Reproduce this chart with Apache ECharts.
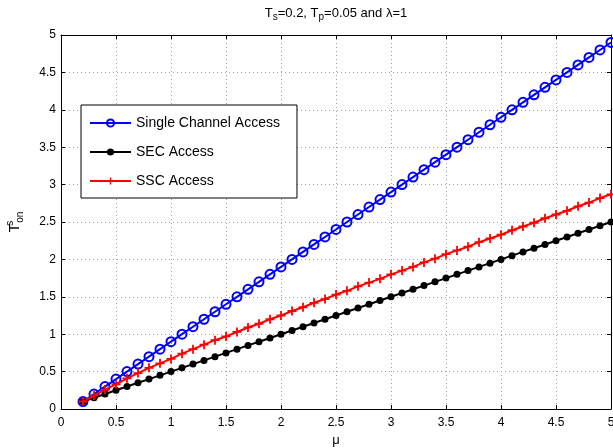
<!DOCTYPE html>
<html>
<head>
<meta charset="utf-8">
<script src="https://cdn.jsdelivr.net/npm/echarts@6/dist/echarts.min.js"></script>
<style>
html,body{margin:0;padding:0;background:#fff;}
#c{width:613px;height:448px;}
</style>
</head>
<body>
<div id="c"></div>
<script>
// ---- data ----
var mu = [0.2,0.3,0.4,0.5,0.6,0.7,0.8,0.9,1.0,1.1,1.2,1.3,1.4,1.5,1.6,1.7,1.8,1.9,2.0,2.1,2.2,2.3,2.4,2.5,2.6,2.7,2.8,2.9,3.0,3.1,3.2,3.3,3.4,3.5,3.6,3.7,3.8,3.9,4.0,4.1,4.2,4.3,4.4,4.5,4.6,4.7,4.8,4.9,5.0];
var singleChannel = [0.1,0.2,0.3,0.4,0.5,0.6,0.7,0.8,0.9,1.0,1.1,1.2,1.3,1.4,1.5,1.6,1.7,1.8,1.9,2.0,2.1,2.2,2.3,2.4,2.5,2.6,2.7,2.8,2.9,3.0,3.1,3.2,3.3,3.4,3.5,3.6,3.7,3.8,3.9,4.0,4.1,4.2,4.3,4.4,4.5,4.6,4.7,4.8,4.9];
var secAccess = [0.10,0.15,0.20,0.25,0.30,0.35,0.40,0.45,0.50,0.55,0.60,0.65,0.70,0.75,0.80,0.85,0.90,0.95,1.00,1.05,1.10,1.15,1.20,1.25,1.30,1.35,1.40,1.45,1.50,1.55,1.60,1.65,1.70,1.75,1.80,1.85,1.90,1.95,2.00,2.05,2.10,2.15,2.20,2.25,2.30,2.35,2.40,2.45,2.50];
var sscAccess = [0.10,0.18,0.26,0.33,0.41,0.48,0.55,0.61,0.67,0.74,0.80,0.86,0.92,0.97,1.03,1.09,1.14,1.20,1.25,1.31,1.36,1.42,1.47,1.53,1.58,1.64,1.69,1.74,1.80,1.85,1.90,1.96,2.01,2.07,2.12,2.17,2.23,2.28,2.33,2.39,2.44,2.49,2.55,2.60,2.65,2.71,2.76,2.82,2.87];
var seriesNames = ['Single Channel Access','SEC Access','SSC Access'];
var axisMin = 0, axisMax = 5, axisStep = 0.5;

function pairs(ys){ return mu.map(function(x,i){ return [x, ys[i]]; }); }

var FONT = 'Liberation Sans, Arial, Helvetica, sans-serif';
var plusPath = 'path://M4,0H6V4H10V6H6V10H4V6H0V4H4Z';

var chart = echarts.init(document.getElementById('c'), null, {renderer:'canvas'});

function mainAxis(pos, extra){
  var a = {
    type:'value', position:pos, min:axisMin, max:axisMax, interval:axisStep,
    axisLine:{show:true, onZero:false, lineStyle:{color:'#000', width:1}},
    axisTick:{show:true, inside:true, length:4, lineStyle:{color:'#000'}},
    axisLabel:{show:true, color:'#000', fontSize:12, fontFamily:FONT},
    splitLine:{show:true, lineStyle:{color:'#a0a0a0', type:[1,3], width:1}}
  };
  for (var k in extra) a[k] = extra[k];
  return a;
}
function boxAxis(pos){
  return {
    type:'value', position:pos, min:axisMin, max:axisMax, interval:axisStep,
    axisLine:{show:true, onZero:false, lineStyle:{color:'#000', width:1}},
    axisTick:{show:true, inside:true, length:4, lineStyle:{color:'#000'}},
    axisLabel:{show:false}, splitLine:{show:false}
  };
}

var xMain = mainAxis('bottom', {
  name:'μ', nameLocation:'middle', nameGap:21,
  nameTextStyle:{color:'#000', fontSize:13, fontFamily:FONT}
});
xMain.axisLabel.margin = 8;
var yMain = mainAxis('left', {
  name:'{n|T}{sup|s}{sub|on}', nameLocation:'middle', nameGap:36, nameRotate:90,
  nameTextStyle:{color:'#000', fontFamily:FONT,
    rich:{
      n:{fontSize:14, lineHeight:20, fontFamily:FONT, color:'#000'},
      sup:{fontSize:10, lineHeight:10, verticalAlign:'top', width:1, fontFamily:FONT, color:'#000'},
      sub:{fontSize:10, lineHeight:10, verticalAlign:'bottom', fontFamily:FONT, color:'#000'}
    }}
});
yMain.axisLabel.margin = 5;

var option = {
  animation:false,
  backgroundColor:'#fff',
  title:{
    text:'{n|T}{sub|s}{n|=0.2, T}{sub|p}{n|=0.05 and λ=1}',
    left:336, top:4, textAlign:'center', padding:0,
    textStyle:{color:'#000', fontFamily:FONT, fontWeight:'normal',
      rich:{
        n:{fontSize:13, lineHeight:18, fontFamily:FONT, color:'#000'},
        sub:{fontSize:10, lineHeight:10, verticalAlign:'bottom', fontFamily:FONT, color:'#000'}
      }}
  },
  grid:{left:61, right:2, top:35, bottom:39, containLabel:false, outerBoundsMode:'none'},
  legend:{
    data:seriesNames, orient:'vertical', left:81, top:105,
    padding:[11,17,10,8], itemGap:15, itemWidth:41, itemHeight:9,
    backgroundColor:'#fff', borderColor:'#000', borderWidth:1, borderRadius:0,
    textStyle:{color:'#000', fontSize:14, fontFamily:FONT}
  },
  xAxis:[xMain, boxAxis('top')],
  yAxis:[yMain, boxAxis('right')],
  series:[
    {
      name:seriesNames[0], type:'line', xAxisIndex:0, yAxisIndex:0,
      data:pairs(singleChannel), symbol:'circle', symbolSize:9,
      lineStyle:{color:'#0000ff', width:2},
      itemStyle:{color:'rgba(0,0,0,0)', borderColor:'#0000ff', borderWidth:2},
      z:2
    },
    {
      name:seriesNames[1], type:'line', xAxisIndex:0, yAxisIndex:0,
      data:pairs(secAccess), symbol:'circle', symbolSize:7,
      lineStyle:{color:'#000', width:2},
      itemStyle:{color:'#000', borderWidth:0},
      z:3
    },
    {
      name:seriesNames[2], type:'line', xAxisIndex:0, yAxisIndex:0,
      data:pairs(sscAccess), symbol:plusPath, symbolSize:9,
      lineStyle:{color:'#ff0000', width:2},
      itemStyle:{color:'#ff0000', borderWidth:0},
      z:4
    }
  ]
};
chart.setOption(option);
</script>
</body>
</html>
